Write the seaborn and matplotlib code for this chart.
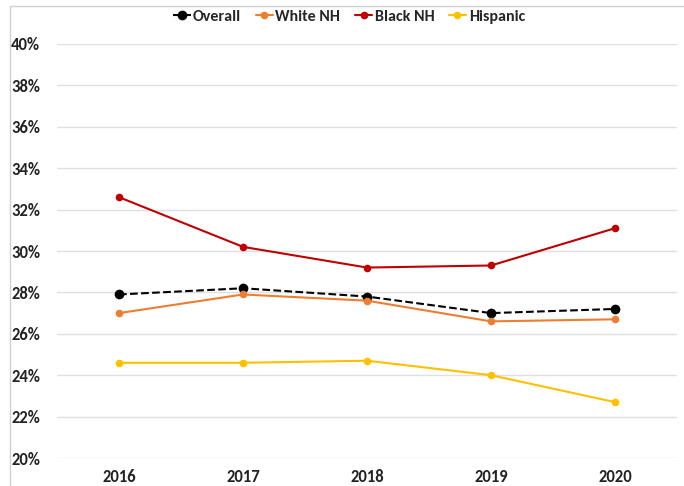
import matplotlib
matplotlib.use("Agg")
import matplotlib.pyplot as plt
from matplotlib import font_manager
import seaborn as sns
import pandas as pd

years = ["2016", "2017", "2018", "2019", "2020"]
overall = [27.9, 28.2, 27.8, 27.0, 27.2]
white_nh = [27.0, 27.9, 27.6, 26.6, 26.7]
black_nh = [32.6, 30.2, 29.2, 29.3, 31.1]
hispanic = [24.6, 24.6, 24.7, 24.0, 22.7]

series_names = ["Overall", "White NH", "Black NH", "Hispanic"]
series_vals = [overall, white_nh, black_nh, hispanic]
colors = {"Overall": "#000000", "White NH": "#ED7D31",
          "Black NH": "#C00000", "Hispanic": "#FFC000"}

rows = []
for name, vals in zip(series_names, series_vals):
    for i, (y, v) in enumerate(zip(years, vals)):
        rows.append({"idx": i, "year": y, "group": name, "rate": v})
df = pd.DataFrame(rows)

sns.set_theme(style="white")
avail = {f.name for f in font_manager.fontManager.ttflist}
fam = next((f for f in ["Carlito", "Open Sans Condensed", "Archivo Narrow",
                        "Asap Condensed", "Liberation Sans"] if f in avail), "DejaVu Sans")
plt.rcParams["font.family"] = [fam, "DejaVu Sans"]

fig = plt.figure(figsize=(6.84, 4.86), dpi=100)
ax = fig.add_axes([57 / 684, 1 - 458 / 486, (677 - 57) / 684, (458 - 44) / 486])

for name in series_names:
    sub = df[df["group"] == name]
    big = name == "Overall"
    sns.lineplot(data=sub, x="idx", y="rate", ax=ax, color=colors[name],
                 linestyle="--" if big else "-", linewidth=1.5,
                 marker="o", markersize=7 if big else 5.5,
                 markeredgewidth=0, label=name)

ax.set_xlim(-0.5, 4.5)
ax.set_ylim(20, 40)
ax.set_yticks(range(20, 41, 2))
ax.set_yticklabels([f"{t}%" for t in range(20, 41, 2)])
ax.set_xticks(range(len(years)))
ax.set_xticklabels(years)
ax.set_xlabel("")
ax.set_ylabel("")
ax.yaxis.grid(True, color="#E0E0E0", linewidth=1)
ax.xaxis.grid(False)
for s in ax.spines.values():
    s.set_visible(False)
ax.tick_params(axis="both", length=0, labelsize=12, colors="#222222")
ax.tick_params(axis="y", pad=12)
ax.tick_params(axis="x", pad=8)
for lab in ax.get_xticklabels() + ax.get_yticklabels():
    lab.set_fontweight("bold")

leg = ax.legend(loc="center", bbox_to_anchor=(349 / 684, 1 - 17 / 486), bbox_transform=fig.transFigure,
                ncol=4, frameon=False, handlelength=1.1, handletextpad=0.15,
                columnspacing=0.9, prop={"weight": "bold", "size": 11.5})

# outer frame
fig.patches.append(plt.Rectangle((10 / 684, -0.01), 1.0, 1 - 6 / 486 + 0.01,
                                 transform=fig.transFigure, fill=False,
                                 edgecolor="#D0D0D0", linewidth=1))

fig.savefig("out.png", dpi=100)
